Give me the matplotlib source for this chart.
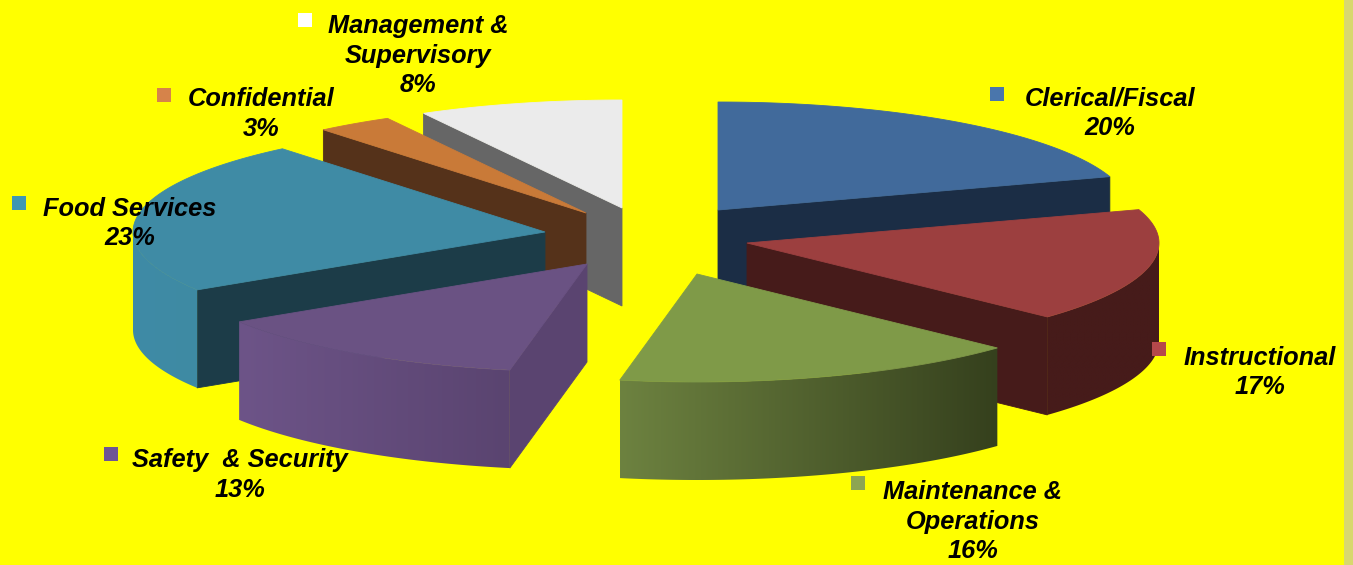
import numpy as np
import matplotlib
matplotlib.use("Agg")
import matplotlib.pyplot as plt
from matplotlib.colors import to_rgb
from matplotlib.patches import Polygon, Rectangle

plt.rcParams['font.family'] = ['Liberation Sans', 'DejaVu Sans']

# budget share by employee group, clockwise from 12 o'clock
groups = ['Clerical/Fiscal', 'Instructional', 'Maintenance &\nOperations', 'Safety  & Security',
          'Food Services', 'Confidential', 'Management &\nSupervisory']
shares = [20, 17, 16, 13, 23, 3, 8]

# styling per group
top_colors = ['#416a9b', '#9c3f3f', '#7f9a48', '#6a5283', '#3f8ba5', '#c97a38', '#ebebeb']
cut_colors = ['#1b2d45', '#461b1a', '#37431f', '#5a4470', '#1c3c48', '#55321a', '#666666']
wall_left = ['#1b2d45', '#461b1a', '#6d8240', '#6d5488', '#3e8ba6', '#55321a', '#666666']
wall_right = ['#1b2d45', '#461b1a', '#35401d', '#5a4470', '#3f8aa3', '#55321a', '#666666']
key_colors = ['#4a76ac', '#b5484b', '#8da552', '#6e5595', '#3f97b3', '#d6834a', '#ffffff']

# where each exploded slice's tip sits, in pixels
tips = [(718, 210), (747, 243), (697, 274), (587, 264), (545, 232), (586, 213), (622, 208)]
# label centre and legend key position, in pixels
label_xy = [(1110, 113), (1260, 372.5), (973, 521.5), (240, 475), (130, 223.5), (261, 114), (418, 55.5)]
key_xy = [(997, 94), (1159, 349), (858, 483), (111, 454), (19, 203), (164, 95), (305, 20)]

RX, RY = 412, 108
DEPTH = 98


def rim(tip, a1, a2, n=80):
    t = np.radians(np.linspace(a1, a2, n))
    return np.column_stack([tip[0] + RX * np.sin(t), tip[1] - RY * np.cos(t)])


fig = plt.figure(figsize=(13.53, 5.65), dpi=100, facecolor='#ffff00')
ax = fig.add_axes([0, 0, 1, 1])
ax.axis('off')

stops = np.cumsum([0] + shares) * 3.6
down = np.array([0, DEPTH])

# back slices first so the front ones cover them
order = [6, 5, 0, 4, 1, 3, 2]
for rank, i in enumerate(order):
    tip = np.array(tips[i], dtype=float)
    a1, a2 = stops[i], stops[i + 1]

    # flat cut faces, only where they turn towards the viewer
    for a, visible in [(a1, np.sin(np.radians(a1)) < 0), (a2, np.sin(np.radians(a2)) > 0)]:
        if visible:
            p = rim(tip, a, a, 1)[0]
            ax.add_patch(Polygon([tip, p, p + down, tip + down], fc=cut_colors[i], ec=cut_colors[i],
                                 lw=0.6, zorder=rank * 3))

    # curved outer wall with a horizontal gradient
    lo, hi = max(a1, 90), min(a2, 270)
    if hi > lo:
        edge = rim(tip, lo, hi)
        wall = Polygon(np.vstack([edge, (edge + down)[::-1]]), fc='none', ec='none')
        ax.add_patch(wall)
        x0, x1 = edge[:, 0].min(), edge[:, 0].max()
        ramp = np.linspace(to_rgb(wall_left[i]), to_rgb(wall_right[i]), 256)[None, :, :]
        im = ax.imshow(ramp, extent=[x0, x1, edge[:, 1].max() + DEPTH, edge[:, 1].min()], aspect='auto',
                       zorder=rank * 3 + 1, interpolation='bilinear')
        im.set_clip_path(wall)

    ax.add_patch(Polygon(np.vstack([tip, rim(tip, a1, a2)]), fc=top_colors[i], ec=top_colors[i],
                         lw=0.6, zorder=rank * 3 + 2))

for name, share, (x, y), (kx, ky), c in zip(groups, shares, label_xy, key_xy, key_colors):
    ax.text(x, y, f'{name}\n{share}%', ha='center', va='center', fontsize=18.3, fontweight='bold',
            fontstyle='italic', color='black', linespacing=1.29, zorder=50)
    ax.add_patch(Rectangle((kx - 7, ky - 7), 14, 14, fc=c, ec='none', zorder=50))

# pale strip down the right hand edge
ax.add_patch(Rectangle((1344, 0), 9, 565, fc='#d8d86e', ec='none', zorder=60))

ax.set_xlim(0, 1353)
ax.set_ylim(565, 0)
fig.savefig('out.png', dpi=100, facecolor=fig.get_facecolor())
